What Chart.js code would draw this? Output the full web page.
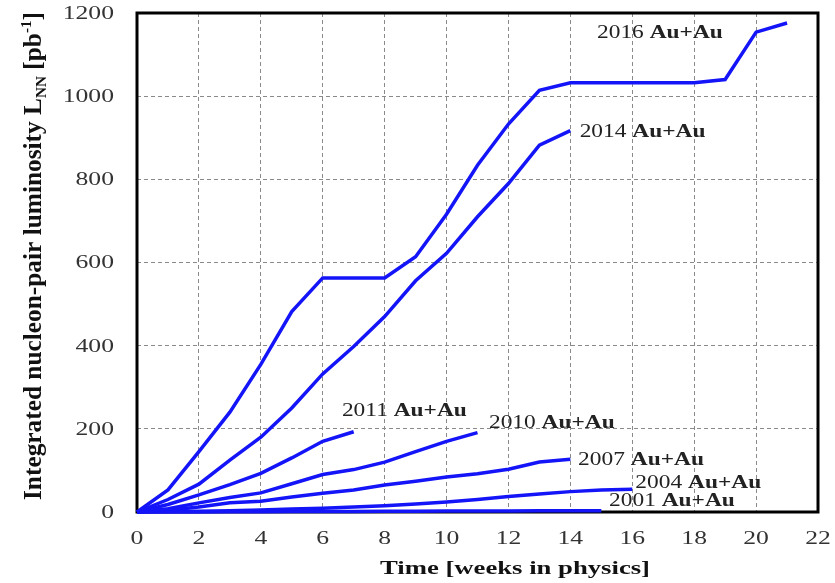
<!DOCTYPE html>
<html>
<head>
<meta charset="utf-8">
<script src="https://cdn.jsdelivr.net/npm/chart.js@4.4.1/dist/chart.umd.min.js"></script>
<style>
  html, body { margin: 0; padding: 0; background: #fff; }
  #wrap { width: 835px; height: 583px; }
</style>
</head>
<body>
<div id="wrap"><canvas id="mycanvas" width="835" height="583"></canvas></div>
<script>
// integrated luminosity per week in physics (week = index)
var runs = ['2016', '2014', '2011', '2010', '2007', '2004', '2001'];
var lum2016 = [0, 53, 145, 240, 355, 482, 563, 563, 563, 614, 716, 834, 933, 1014, 1032, 1032, 1032, 1032, 1032, 1040, 1154, 1176];
var lum2014 = [0, 30, 67, 125, 180, 250, 332, 398, 470, 556, 622, 710, 790, 882, 917];
var lum2011 = [0, 18, 41, 66, 93, 130, 170, 193];
var lum2010 = [0, 8, 22, 35, 46, 68, 90, 102, 120, 145, 170, 191];
var lum2007 = [0, 4, 12, 22, 26, 36, 45, 53, 65, 74, 84, 92, 103, 120, 127];
var lum2004 = [0, 1, 2, 3, 5, 7, 9, 12, 15, 19, 24, 30, 37, 43, 49, 53, 55];
var lum2001 = [0, 0.1, 0.3, 0.5, 0.7, 1, 1.2, 1.5, 1.8, 2, 2.2, 2.5, 2.7, 2.9, 3, 3];
var xTicks = [0, 2, 4, 6, 8, 10, 12, 14, 16, 18, 20, 22];
var yTicks = [0, 200, 400, 600, 800, 1000, 1200];

// where each run label sits, in data units (left edge, baseline)
var labelAt = {
  '2016': [14.86, 1140], '2014': [14.3, 902], '2011': [6.62, 231],
  '2010': [11.37, 202], '2007': [14.25, 112], '2004': [16.1, 57], '2001': [15.25, 14]
};

var series = [lum2016, lum2014, lum2011, lum2010, lum2007, lum2004, lum2001];

function toPoints(arr) {
  var pts = [];
  for (var i in arr) pts.push({x: +i, y: arr[i]});
  return pts;
}

var datasets = [];
for (var i in runs) {
  datasets.push({
    label: runs[i] + ' Au+Au',
    data: toPoints(series[i]),
    borderColor: '#1414f8',
    borderWidth: 3.5,
    pointRadius: 0,
    tension: 0,
    clip: false
  });
}

var SERIF = '"Liberation Serif", "Times New Roman", serif';

// text squeezed/stretched sideways like the scanned figure
function wideText(ctx, txt, x, y, sx, align) {
  var w = ctx.measureText(txt).width * sx;
  var left = align === 'right' ? x - w : (align === 'center' ? x - w / 2 : x);
  ctx.save();
  ctx.translate(left, y);
  ctx.scale(sx, 1);
  ctx.textAlign = 'left';
  ctx.fillText(txt, 0, 0);
  ctx.restore();
  return w;
}

var frame = {
  id: 'frame',
  beforeDatasetsDraw: function(chart) {
    var a = chart.chartArea, ctx = chart.ctx;
    ctx.save();
    ctx.strokeStyle = '#000';
    ctx.lineWidth = 3;
    ctx.strokeRect(a.left, a.top, a.right - a.left, a.bottom - a.top);
    ctx.restore();
  },
  afterDraw: function(chart) {
    var ctx = chart.ctx, xs = chart.scales.x, ys = chart.scales.y;
    ctx.save();

    // tick labels
    ctx.fillStyle = '#333';
    ctx.font = '19px ' + SERIF;
    ctx.textBaseline = 'middle';
    for (var i in yTicks) {
      wideText(ctx, String(yTicks[i]), 114, ys.getPixelForValue(yTicks[i]) + 1, 1.35, 'right');
    }
    for (var i in xTicks) {
      wideText(ctx, String(xTicks[i]), xs.getPixelForValue(xTicks[i]), 539, 1.35, 'center');
    }

    // run labels
    ctx.fillStyle = '#222';
    ctx.textBaseline = 'alphabetic';
    for (var r in labelAt) {
      var px = xs.getPixelForValue(labelAt[r][0]);
      var py = ys.getPixelForValue(labelAt[r][1]);
      ctx.font = '18px ' + SERIF;
      var w = wideText(ctx, r + ' ', px, py, 1.3, 'left');
      ctx.font = 'bold 18px ' + SERIF;
      wideText(ctx, 'Au+Au', px + w, py, 1.3, 'left');
    }

    // x title
    ctx.font = 'bold 19px ' + SERIF;
    ctx.fillStyle = '#111';
    var tw = ctx.measureText('Time [weeks in physics]').width;
    wideText(ctx, 'Time [weeks in physics]', 515, 574, 270 / tw, 'center');

    // y title with subscript / superscript
    var parts = [
      ['Integrated nucleon-pair luminosity L', 20, 0],
      ['NN', 12, 4],
      [' [pb', 20, 0],
      ['-1', 12, -8],
      [']', 20, 0]
    ];
    ctx.textAlign = 'left';
    var total = 0;
    for (var k in parts) {
      ctx.font = 'bold ' + parts[k][1] + 'px ' + SERIF;
      total += ctx.measureText(parts[k][0]).width;
    }
    var target = 488;
    ctx.translate(41, 256);
    ctx.rotate(-Math.PI / 2);
    ctx.scale(target / total, 1.3);
    var cx = -total / 2;
    for (var k in parts) {
      ctx.font = 'bold ' + parts[k][1] + 'px ' + SERIF;
      ctx.fillText(parts[k][0], cx, parts[k][2]);
      cx += ctx.measureText(parts[k][0]).width;
    }
    ctx.restore();
  }
};

var ctx = document.getElementById('mycanvas');
var chart = new Chart(ctx, {
  type: 'line',
  data: { datasets: datasets },
  options: {
    responsive: false,
    animation: false,
    layout: { padding: { top: 13, right: 17, left: 0, bottom: 0 } },
    plugins: { legend: { display: false }, tooltip: { enabled: false } },
    scales: {
      x: {
        type: 'linear', min: 0, max: 22,
        afterBuildTicks: function(s) { s.ticks = xTicks.map(function(v) { return {value: v}; }); },
        afterFit: function(s) { s.height = 71; },
        grid: { color: '#8a8a8a', lineWidth: 1, drawTicks: false },
        border: { display: false, dash: [4, 3] },
        ticks: { display: false }
      },
      y: {
        min: 0, max: 1200,
        afterBuildTicks: function(s) { s.ticks = yTicks.map(function(v) { return {value: v}; }); },
        afterFit: function(s) { s.width = 137; },
        grid: { color: '#8a8a8a', lineWidth: 1, drawTicks: false },
        border: { display: false, dash: [4, 3] },
        ticks: { display: false }
      }
    }
  },
  plugins: [frame]
});
</script>
</body>
</html>
